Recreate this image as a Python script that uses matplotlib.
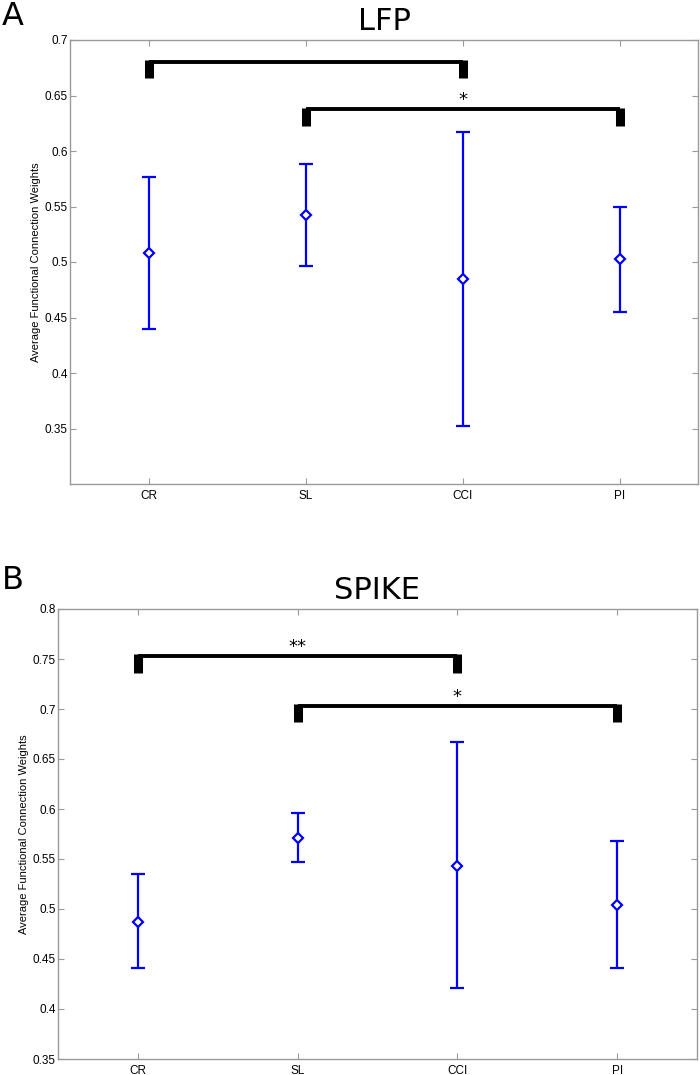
import numpy as np
import matplotlib.pyplot as plt

groups = ["CR", "SL", "CCI", "PI"]

# LFP panel: mean, lower and upper end of each error bar
lfp_mean = [0.508, 0.542, 0.485, 0.503]
lfp_low = [0.440, 0.496, 0.352, 0.455]
lfp_high = [0.577, 0.588, 0.617, 0.550]

# SPIKE panel
spike_mean = [0.487, 0.571, 0.543, 0.504]
spike_low = [0.441, 0.547, 0.421, 0.441]
spike_high = [0.535, 0.596, 0.667, 0.568]

# significance brackets: (from group, to group, bar level, leg bottom, label)
lfp_brackets = [(0, 2, 0.680, 0.666, ""), (1, 3, 0.6375, 0.6225, "*")]
spike_brackets = [(0, 2, 0.753, 0.736, "**"), (1, 3, 0.703, 0.687, "*")]

tick_font = "Liberation Sans"
blue = "#0000ff"
gray = "#9a9a9a"


def draw_panel(ax, mean, low, high, brackets, title, ylim, yticks, letter, letter_xy):
    x = np.arange(1, len(groups) + 1)
    mean = np.array(mean)
    yerr = [mean - np.array(low), np.array(high) - mean]
    ax.errorbar(
        x, mean, yerr=yerr, fmt="D", color=blue, mfc="white", mec=blue,
        ms=4.8, mew=1.6, lw=1.6, capsize=5, capthick=1.6, zorder=3,
    )

    for i, j, level, leg, label in brackets:
        xi, xj = x[i], x[j]
        ax.plot([xi, xj], [level, level], color="black", lw=2.8,
                solid_capstyle="butt", zorder=2)
        top = level + (ylim[1] - ylim[0]) * 0.004
        for xx in (xi, xj):
            ax.plot([xx, xx], [top, leg], color="black", lw=6.5,
                    solid_capstyle="butt", zorder=2)
        if label:
            ax.annotate(label, xy=((xi + xj) / 2, level), xytext=(0, 0),
                        textcoords="offset points", ha="center", va="bottom",
                        fontsize=13, family="DejaVu Sans")

    ax.set_xlim(0.5, len(groups) + 0.5)
    ax.set_ylim(*ylim)
    ax.set_xticks(x)
    ax.set_xticklabels(groups, family=tick_font, fontsize=8.5)
    ax.set_yticks(yticks)
    ax.set_yticklabels([f"{t:g}" for t in yticks], family=tick_font, fontsize=8.5)
    ax.tick_params(direction="in", length=4, color=gray, width=0.8,
                   top=True, right=True)
    ax.tick_params(axis="y", pad=1.5)
    ax.tick_params(axis="x", pad=4)
    for s in ax.spines.values():
        s.set_color(gray)
        s.set_linewidth(1.0)
    ax.set_ylabel("Average Functional Connection Weights", family=tick_font,
                  fontsize=8, labelpad=3)
    ax.set_title(title, fontsize=22, family="DejaVu Sans", pad=7)
    ax.figure.text(letter_xy[0], letter_xy[1], letter, fontsize=23,
                   family="DejaVu Sans", va="top", ha="left")


fig = plt.figure(figsize=(7, 10.75), dpi=100)
ax1 = fig.add_axes([70 / 700, 1 - 484 / 1075, 628 / 700, 444 / 1075])
ax2 = fig.add_axes([58 / 700, 1 - 1059 / 1075, 639 / 700, 450 / 1075])

draw_panel(ax1, lfp_mean, lfp_low, lfp_high, lfp_brackets, "LFP",
           (0.3, 0.7), np.round(np.arange(0.35, 0.701, 0.05), 2), "A",
           (0.002, 1 - 1 / 1075))
draw_panel(ax2, spike_mean, spike_low, spike_high, spike_brackets, "SPIKE",
           (0.35, 0.8), np.round(np.arange(0.35, 0.801, 0.05), 2), "B",
           (0.002, 1 - 565 / 1075))

fig.savefig("out.png", dpi=100)
